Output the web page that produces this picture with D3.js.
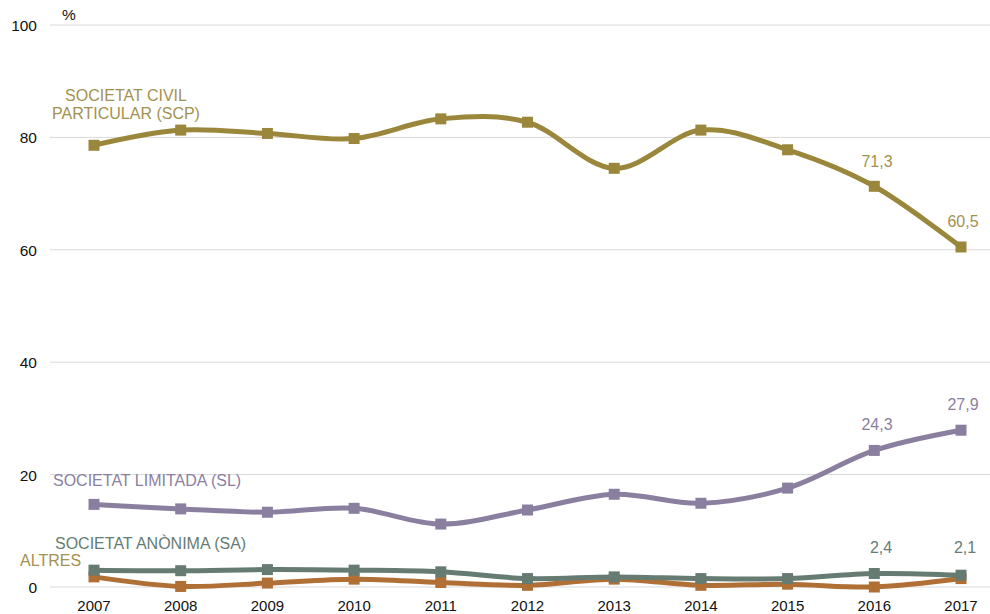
<!DOCTYPE html>
<html>
<head>
<meta charset="utf-8">
<script src="https://cdn.jsdelivr.net/npm/d3@7"></script>
<style>
  body { margin: 0; background: #fff; }
  svg { display: block; font-family: "Liberation Sans", Arial, sans-serif; }
</style>
</head>
<body>
<svg id="chart" width="990" height="614"></svg>
<script>
const years = [2007, 2008, 2009, 2010, 2011, 2012, 2013, 2014, 2015, 2016, 2017];
const yTicks = [0, 20, 40, 60, 80, 100];

const scp    = [78.6, 81.3, 80.7, 79.8, 83.3, 82.7, 74.5, 81.3, 77.8, 71.3, 60.5];
const sl     = [14.7, 13.9, 13.3, 14.0, 11.2, 13.7, 16.5, 14.9, 17.6, 24.3, 27.9];
const sa     = [3.0, 2.9, 3.1, 3.0, 2.7, 1.5, 1.8, 1.5, 1.5, 2.4, 2.1];
const altres = [1.8, 0.1, 0.7, 1.4, 0.8, 0.3, 1.4, 0.3, 0.5, 0.0, 1.5];

const series = [
  { key: 'altres', values: altres, color: '#b06f35' },
  { key: 'sa',     values: sa,     color: '#667c72' },
  { key: 'sl',     values: sl,     color: '#8b7fa0' },
  { key: 'scp',    values: scp,    color: '#9a873c' },
];

const svg = d3.select('#chart');

const x = d3.scalePoint().domain(years).range([94, 961]);
const y = d3.scaleLinear().domain([0, 100]).range([587, 25]);

// gridlines
svg.append('g')
  .selectAll('line')
  .data(yTicks)
  .join('line')
  .attr('x1', 50).attr('x2', 990)
  .attr('y1', d => y(d)).attr('y2', d => y(d))
  .attr('stroke', '#d9d9d9').attr('stroke-width', 1);

// y labels
svg.append('g')
  .selectAll('text')
  .data(yTicks)
  .join('text')
  .attr('x', 37).attr('y', d => y(d) + 6)
  .attr('text-anchor', 'end').attr('font-size', 15.5).attr('fill', '#111')
  .text(d => d);

svg.append('text').attr('x', 62).attr('y', 20)
  .attr('font-size', 15.5).attr('fill', '#111').text('%');

// x labels
svg.append('g')
  .selectAll('text')
  .data(years)
  .join('text')
  .attr('x', d => x(d)).attr('y', 611)
  .attr('text-anchor', 'middle').attr('font-size', 15).attr('fill', '#111')
  .text(d => d);

const line = d3.line()
  .x((d, i) => x(years[i]))
  .y(d => y(d))
  .curve(d3.curveCardinal.tension(0));

for (const s of series) {
  svg.append('path')
    .datum(s.values)
    .attr('d', line)
    .attr('fill', 'none')
    .attr('stroke', s.color)
    .attr('stroke-width', 5)
    .attr('stroke-linejoin', 'round');
  svg.append('g')
    .selectAll('rect')
    .data(s.values)
    .join('rect')
    .attr('x', (d, i) => x(years[i]) - 5.5)
    .attr('y', d => y(d) - 5.5)
    .attr('width', 11).attr('height', 11)
    .attr('fill', s.color);
}

// series labels
const lab = (tx, ty, txt, col, anchor = 'start') =>
  svg.append('text').attr('x', tx).attr('y', ty)
    .attr('text-anchor', anchor).attr('font-size', 16).attr('fill', col).text(txt);

lab(126, 101, 'SOCIETAT CIVIL', '#a3914f', 'middle');
lab(126, 119, 'PARTICULAR (SCP)', '#a3914f', 'middle');
lab(53, 486, 'SOCIETAT LIMITADA (SL)', '#8b7fa0');
lab(55, 549, 'SOCIETAT ANÒNIMA (SA)', '#667c72');
lab(20, 566, 'ALTRES', '#a3914f');

// value labels
lab(877, 167, '71,3', '#a3914f', 'middle');
lab(963, 227, '60,5', '#a3914f', 'middle');
lab(877, 430, '24,3', '#8b7fa0', 'middle');
lab(963, 410, '27,9', '#8b7fa0', 'middle');
lab(881, 553, '2,4', '#667c72', 'middle');
lab(965, 553, '2,1', '#667c72', 'middle');
</script>
</body>
</html>
